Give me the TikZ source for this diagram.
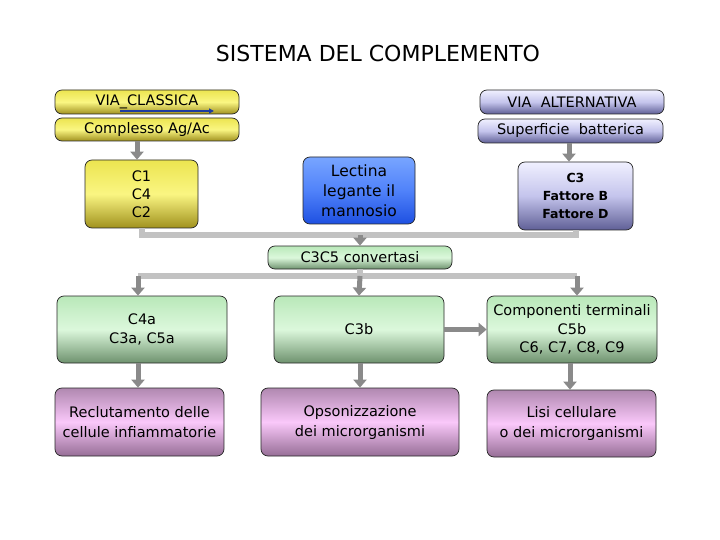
\documentclass[tikz,border=0pt]{standalone}
\usepackage{fontspec}
\setmainfont{DejaVu Sans}
\usetikzlibrary{arrows.meta,calc}
\definecolor{ylT}{RGB}{236,228,80}
\definecolor{ylM}{RGB}{250,246,130}
\definecolor{ylB}{RGB}{160,145,30}
\definecolor{blT}{RGB}{120,165,255}
\definecolor{blM}{RGB}{80,130,250}
\definecolor{blB}{RGB}{30,80,225}
\definecolor{lvT}{RGB}{240,240,255}
\definecolor{lvM}{RGB}{196,196,236}
\definecolor{lvB}{RGB}{95,95,150}
\definecolor{grT}{RGB}{185,232,185}
\definecolor{grM}{RGB}{220,248,220}
\definecolor{grB}{RGB}{110,146,110}
\definecolor{pkT}{RGB}{176,136,176}
\definecolor{pkM}{RGB}{250,200,250}
\definecolor{pkB}{RGB}{150,110,150}
\definecolor{busc}{RGB}{194,194,194}
\definecolor{arrc}{RGB}{138,138,138}
\definecolor{bluearr}{RGB}{30,60,160}
\begin{document}
\begin{tikzpicture}[x=1pt,y=-1pt,
  box/.style={draw=black!85, line width=0.7pt, rounded corners=7pt, inner sep=0pt, align=center, font=\fontsize{14.5}{18}\selectfont},
  yel/.style={box, top color=ylT, bottom color=ylB, middle color=ylM},
  blu/.style={box, top color=blT, bottom color=blB, middle color=blM},
  lav/.style={box, top color=lvT, bottom color=lvB, middle color=lvM},
  grn/.style={box, top color=grT, bottom color=grB, middle color=grM},
  pnk/.style={box, top color=pkT, bottom color=pkB, middle color=pkM},
  bus/.style={draw=busc, line width=6pt},
  arr/.style={draw=arrc, line width=5pt, -{Triangle[length=8pt,width=13pt]}},
  ttl/.style={font=\fontsize{22}{26}\selectfont, inner sep=0pt}
]
\useasboundingbox (0,0) rectangle (720,540);
\fill[white] (0,0) rectangle (720,540);

\node[ttl] (title) at (378,53) {SISTEMA DEL COMPLEMENTO};

% top row
\node[yel, minimum width=184pt, minimum height=24pt] (viacl) at (147,102) {VIA\_CLASSICA};
\coordinate (ba1) at (120,111);
\coordinate (ba2) at (214,111);
\draw[bluearr, line width=1.6pt, -{Triangle[length=5pt,width=5pt]}] (ba1) -- (ba2);
\node[yel, minimum width=184pt, minimum height=23pt] (compl) at (147,129.5) {Complesso Ag/Ac};
\node[yel, minimum width=113pt, minimum height=68pt, font=\fontsize{14.5}{18}\selectfont] (c1) at (141.5,194) {C1\\C4\\C2};

\node[blu, minimum width=112pt, minimum height=67pt, font=\fontsize{15.5}{20}\selectfont] (lect) at (359,190.5) {Lectina\\legante il\\mannosio};

\node[lav, minimum width=184pt, minimum height=24pt] (viaalt) at (572,102) {VIA\ \ ALTERNATIVA};
\node[lav, minimum width=185pt, minimum height=24pt] (sup) at (570.5,131) {Superficie\ \ batterica};
\node[lav, minimum width=115pt, minimum height=68pt, font=\bfseries\fontsize{12.5}{18}\selectfont] (c3) at (575.5,196) {C3\\Fattore B\\Fattore D};

% convertase
\node[grn, minimum width=184pt, minimum height=23pt] (conv) at (360,257.5) {C3C5 convertasi};

% middle row
\node[grn, minimum width=170pt, minimum height=67pt, font=\fontsize{14.5}{19}\selectfont] (c4a) at (142,329.5) {C4a\\C3a, C5a};
\node[grn, minimum width=170pt, minimum height=67pt, font=\fontsize{14.5}{19}\selectfont] (c3b) at (359,329.5) {C3b};
\node[grn, minimum width=170pt, minimum height=67pt, font=\fontsize{14.5}{18.5}\selectfont] (comp) at (572,329.5) {Componenti terminali\\C5b\\C6, C7, C8, C9};

% bottom row
\node[pnk, minimum width=169pt, minimum height=68pt, font=\fontsize{14.5}{20}\selectfont] (recl) at (139.5,422) {Reclutamento delle\\cellule infiammatorie};
\node[pnk, minimum width=198pt, minimum height=68pt, font=\fontsize{14.5}{20}\selectfont] (ops) at (360,422) {Opsonizzazione\\dei microrganismi};
\node[pnk, minimum width=169pt, minimum height=67pt, font=\fontsize{14.5}{20}\selectfont] (lisi) at (571.5,423.5) {Lisi cellulare\\o dei microrganismi};

% upper bus
\coordinate (u1) at (141.5,235);
\coordinate (u2) at (575.5,235);
\coordinate (u3) at (360,235);
\draw[bus] (c1.south) -- (u1) -- (u2) -- (c3.south);
\draw[arr] (u3) -- (conv.north);

% feed arrows
\draw[arr] ([xshift=-4.5pt]c1.north |- compl.south) -- ([xshift=-4.5pt]c1.north);
\draw[arr] ([xshift=-6.5pt]c3.north |- sup.south) -- ([xshift=-6.5pt]c3.north);

% lower bus
\coordinate (l0) at (360,276);
\coordinate (l1) at (138,276);
\coordinate (l2) at (577,276);
\draw[bus] (conv.south) -- (l0);
\draw[bus] (l1) -- (l2);
\draw[arr] (l1) -- (l1 |- c4a.north);
\draw[arr] (l0) -- (c3b.north);
\draw[arr] (l2) -- (l2 |- comp.north);

% down arrows
\draw[arr] ([xshift=-4pt]c4a.south) -- ([xshift=-4pt]c4a.south |- recl.north);
\draw[arr] ([xshift=1pt]c3b.south) -- ([xshift=1pt]c3b.south |- ops.north);
\draw[arr] ([xshift=-2pt]comp.south) -- ([xshift=-2pt]comp.south |- lisi.north);

% sideways
\draw[arr] (c3b.east) -- (comp.west);
\end{tikzpicture}
\end{document}
